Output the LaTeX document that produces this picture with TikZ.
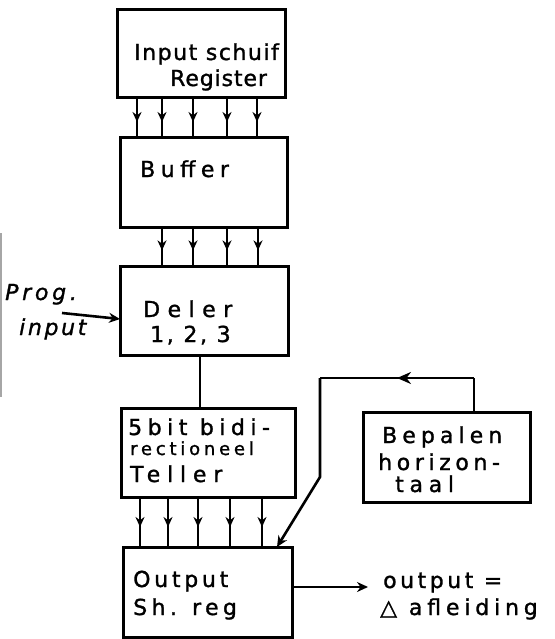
\documentclass[tikz,border=0pt]{standalone}
\usepackage{fontspec}
\setmainfont[FakeBold=1.3]{DejaVu Sans}
\usetikzlibrary{arrows.meta,decorations.markings}
\newcommand{\hwf}[2]{\addfontfeature{LetterSpace=#2}\fontsize{#1}{#1}\selectfont}
\begin{document}
\begin{tikzpicture}[x=1pt,y=-1pt,
  box/.style={draw,line width=3pt,rectangle,inner sep=0pt,outer sep=0pt},
  lbl/.style={inner sep=0pt,anchor=base west},
  wire/.style={line width=2.6pt},
  tip/.style={-{Stealth[length=11pt,width=10pt]}},
  midarrow/.style={line width=2.6pt,decoration={markings,mark=at position 0.6 with {\arrow{Stealth[length=10pt,width=9pt]}}},postaction={decorate}},
  bigmid/.style={line width=2.6pt,decoration={markings,mark=at position 0.5 with {\arrow{Stealth[length=14pt,width=12pt]}}},postaction={decorate}}
]
\useasboundingbox (0,0) rectangle (554,639);
\draw[gray!70,line width=1.2pt] (1,233) -- (1,397);
% boxes
\node[box,minimum width=168pt,minimum height=88pt] (reg) at (201,54) {};
\node[box,minimum width=167pt,minimum height=89pt] (buf) at (203.5,182.5) {};
\node[box,minimum width=168pt,minimum height=89pt] (del) at (204,310.5) {};
\node[box,minimum width=174pt,minimum height=89pt] (tel) at (208,452.5) {};
\node[box,minimum width=169pt,minimum height=90pt] (out) at (207.5,592) {};
\node[box,minimum width=167pt,minimum height=90pt] (bep) at (446.5,457) {};
% texts
\node[lbl,font=\hwf{22}{7}] (t1) at (134,60) {Input schuif};
\node[lbl,font=\hwf{22}{4}] (t2) at (170,86) {Register};
\node[lbl,font=\hwf{22}{25}] (t3) at (140,177) {Buffer};
\node[lbl,font=\hwf{22}{34}] (t4) at (143,317) {Deler};
\node[lbl,font=\hwf{22}{12}] (t5) at (150,342) {1, 2, 3};
\node[lbl,font=\itshape\hwf{22}{17}] (t6) at (5,300) {Prog.};
\node[lbl,font=\itshape\hwf{22}{12}] (t7) at (19,335) {input};
\node[lbl,font=\hwf{22}{25}] (t8) at (128,435) {5bit bidi-};
\node[lbl,font=\hwf{18}{21}] (t9) at (130,455) {rectioneel};
\node[lbl,font=\hwf{22}{31}] (t10) at (130,482) {Teller};
\node[lbl,font=\hwf{22}{17}] (t11) at (133,587) {Output};
\node[lbl,font=\hwf{22}{20}] (t12) at (133,615) {Sh. reg};
\node[lbl,font=\hwf{22}{23}] (t13) at (382,443) {Bepalen};
\node[lbl,font=\hwf{22}{21}] (t14) at (378,470) {horizon-};
\node[lbl,font=\hwf{22}{26}] (t15) at (395,492) {taal};
\node[lbl,font=\hwf{22}{16}] (t16) at (383,588) {output =};
\node[lbl,font=\hwf{22}{22}] (t17) at (380,615) {△ afleiding};
% arrows reg -> buf
\foreach \x in {137,162,193,227,257}
  \draw[midarrow] (\x,0 |- reg.south) -- (\x,0 |- buf.north);
% buf -> del
\foreach \x in {162,193,227,258}
  \draw[midarrow] (\x,0 |- buf.south) -- (\x,0 |- del.north);
% del -> tel
\draw[wire] (200,0 |- del.south) -- (200,0 |- tel.north);
% tel -> out
\foreach \x in {140,168,198,230,262}
  \draw[midarrow] (\x,0 |- tel.south) -- (\x,0 |- out.north);
% prog input
\coordinate (pin) at (62,313);
\draw[wire,tip] (pin) -- (del.west |- 0,319);
% output arrow
\coordinate (oend) at (368,587);
\draw[wire,tip] (out.east |- 0,587) -- (oend);
% feedback
\coordinate (fb1) at (474,378);
\coordinate (fb2) at (320,378);
\coordinate (fb3) at (320,477);
\draw[wire] (474,0 |- bep.north) -- (fb1);
\draw[bigmid] (fb1) -- (fb2);
\draw[wire,tip] (fb2) -- (fb3) -- (277,0 |- out.north);
\end{tikzpicture}
\end{document}
